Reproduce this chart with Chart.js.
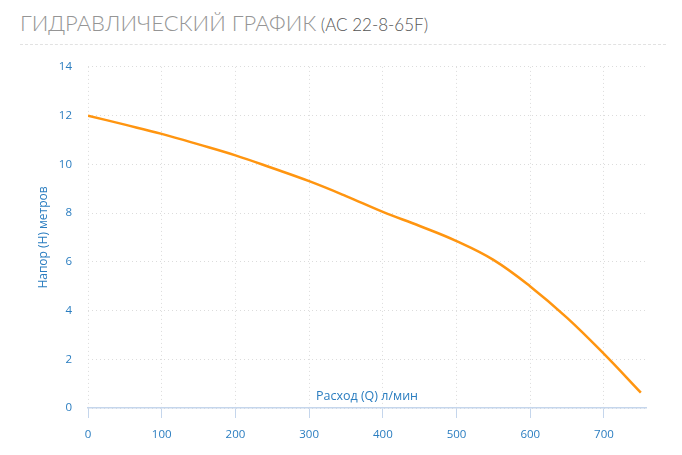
<!DOCTYPE html>
<html>
<head>
<meta charset="utf-8">
<script src="https://cdn.jsdelivr.net/npm/chart.js@4"></script>
<style>
  html, body { margin: 0; padding: 0; background: #fff; }
  body { width: 682px; height: 455px; position: relative; overflow: hidden; }
  #title { position: absolute; left: 20px; top: 9px; font-family: 'Lato', sans-serif; font-weight: 300; color: #959595; white-space: nowrap; }
  #title .main { font-size: 22px; }
  #title .sub { font-size: 17px; color: #555; }
  #sep { position: absolute; left: 20px; top: 44px; width: 646px; border-top: 1px dashed #e2e2e2; }
  #wrap { position: absolute; left: 0; top: 44px; width: 682px; height: 411px; }
</style>
</head>
<body>
<div id="title"><span class="main">ГИДРАВЛИЧЕСКИЙ ГРАФИК</span> <span class="sub">(AC 22-8-65F)</span></div>
<div id="sep"></div>
<div id="wrap"><canvas id="c"></canvas></div>
<script>
const flowLpm = [0, 50, 100, 150, 200, 250, 300, 350, 400, 450, 500, 550, 600, 650, 700, 750];
const headM   = [12.0, 11.63, 11.25, 10.82, 10.37, 9.85, 9.31, 8.7, 8.05, 7.47, 6.85, 6.08, 4.99, 3.7, 2.22, 0.63];
const xTickValues = [0, 100, 200, 300, 400, 500, 600, 700];
const xTitle = 'Расход (Q) л/мин';
const yTitle = 'Напор (H) метров';

const blue = '#2a7dc0';
const font = { family: "'Open Sans', sans-serif", size: 11.5 };

const xTitlePlugin = {
  id: 'xTitleInside',
  afterDraw(chart) {
    const { ctx, chartArea } = chart;
    ctx.save();
    ctx.font = "12.5px 'Open Sans', sans-serif";
    ctx.fillStyle = blue;
    ctx.textAlign = 'center';
    ctx.textBaseline = 'middle';
    ctx.fillText(xTitle, (chartArea.left + chartArea.right) / 2, chartArea.bottom - 12);
    ctx.restore();
  }
};

new Chart(document.getElementById('c'), {
  type: 'line',
  data: {
    datasets: [{
      data: flowLpm.map((q, i) => ({ x: q, y: headM[i] })),
      borderColor: '#ff9510',
      borderWidth: 2.5,
      pointRadius: 0,
      tension: 0.4,
      fill: false
    }]
  },
  options: {
    responsive: true,
    maintainAspectRatio: false,
    animation: false,
    layout: { padding: { left: 0, right: 36, top: 10, bottom: 0 } },
    plugins: { legend: { display: false }, tooltip: { enabled: false } },
    scales: {
      x: {
        type: 'linear',
        min: 0,
        max: 757,
        afterBuildTicks(scale) { scale.ticks = xTickValues.map(v => ({ value: v })); },
        afterFit(scale) { scale.height = 47; },
        ticks: { color: blue, font, padding: 10, maxRotation: 0 },
        grid: { color: '#dcdcdc', tickColor: '#c5d6ec', tickLength: 10, lineWidth: 1 },
        border: { display: true, color: '#c5d6ec', width: 1.5, dash: [1, 3] },
        title: { display: false }
      },
      y: {
        min: 0,
        max: 14,
        ticks: { stepSize: 2, color: blue, font, padding: 16 },
        afterFit(scale) { scale.width = 88; },
        grid: { color: '#dcdcdc', drawTicks: false, lineWidth: 1 },
        border: { display: false, dash: [1, 3] },
        title: { display: true, text: yTitle, color: blue, font: { family: "'Open Sans', sans-serif", size: 12 }, padding: { top: 36, bottom: 0 } }
      }
    }
  },
  plugins: [xTitlePlugin]
});
</script>
</body>
</html>
